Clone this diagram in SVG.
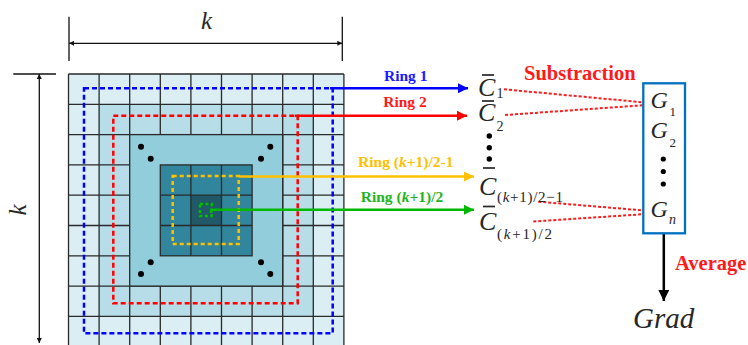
<svg xmlns="http://www.w3.org/2000/svg" width="748" height="345" viewBox="0 0 748 345">
<defs>
<style>
.grid{stroke:#2a2a2a;stroke-width:1.3;fill:none}
.lbl{font-family:"Liberation Serif",serif;font-weight:bold;font-size:15.5px;text-anchor:middle}
.op{font-family:"Liberation Serif",serif;font-weight:bold;font-size:20.5px;fill:#ff1a1a}
.math{font-family:"Liberation Serif",serif;font-style:italic;fill:#262626}
.sub{font-family:"Liberation Serif",serif;fill:#262626}
.dim{stroke:#111;stroke-width:1.3;fill:none}
.ring{fill:none;stroke-width:2.5}
.conn{fill:none;stroke-width:2.5}
.sdot{stroke:#ff1a1a;stroke-width:2;stroke-dasharray:3 2;fill:none}
.bar{stroke:#262626;stroke-width:1.7}
.dot{fill:#000}
</style>
<marker id="ab" viewBox="0 0 10 10" refX="10" refY="5" markerWidth="11" markerHeight="10" markerUnits="userSpaceOnUse" orient="auto"><path d="M0,0L10,5L0,10z" fill="#0000ff"/></marker>
<marker id="ar" viewBox="0 0 10 10" refX="10" refY="5" markerWidth="11" markerHeight="10" markerUnits="userSpaceOnUse" orient="auto"><path d="M0,0L10,5L0,10z" fill="#ff0000"/></marker>
<marker id="ay" viewBox="0 0 10 10" refX="10" refY="5" markerWidth="11" markerHeight="10" markerUnits="userSpaceOnUse" orient="auto"><path d="M0,0L10,5L0,10z" fill="#ffc000"/></marker>
<marker id="ag" viewBox="0 0 10 10" refX="10" refY="5" markerWidth="11" markerHeight="10" markerUnits="userSpaceOnUse" orient="auto"><path d="M0,0L10,5L0,10z" fill="#00b800"/></marker>
<marker id="ak" viewBox="0 0 10 10" refX="10" refY="5" markerWidth="14" markerHeight="11" markerUnits="userSpaceOnUse" orient="auto"><path d="M0,0L10,5L0,10z" fill="#000"/></marker>
<marker id="dm" viewBox="0 0 10 10" refX="10" refY="5" markerWidth="7" markerHeight="5" markerUnits="userSpaceOnUse" orient="auto-start-reverse"><path d="M0,0L10,5L0,10z" fill="#111"/></marker>
</defs>

<g id="dimensions">
<path class="dim" d="M69,16.7V61 M342.3,16.7V61"/>
<path class="dim" d="M69,43.3H342.3" marker-start="url(#dm)" marker-end="url(#dm)"/>
<text class="math" x="206.5" y="29" font-size="25" text-anchor="middle" fill="#222">k</text>
<path class="dim" d="M13.3,74H56"/>
<path class="dim" d="M39.3,74V343" marker-start="url(#dm)" marker-end="url(#dm)"/>
<text class="math" transform="translate(26,210) rotate(-90)" font-size="25" text-anchor="middle" fill="#222">k</text>
</g>

<g id="grid">
<rect x="68.5" y="74" width="275.4" height="273" fill="#daeef3"/>
<rect x="99.1" y="104.3" width="214.2" height="212.1" fill="#b7dee8"/>
<path class="grid" d="M68.5,74V347 M99.1,74V347 M129.7,74V347 M160.3,74V347 M190.9,74V347 M221.5,74V347 M252.1,74V347 M282.7,74V347 M313.3,74V347 M343.9,74V347 M68.5,74H343.9 M68.5,104.3H343.9 M68.5,134.6H343.9 M68.5,164.9H343.9 M68.5,195.2H343.9 M68.5,225.5H343.9 M68.5,255.8H343.9 M68.5,286.1H343.9 M68.5,316.4H343.9"/>
<rect x="129.7" y="134.6" width="153" height="151.5" fill="#92cddc" stroke="#2a2a2a" stroke-width="1.3"/>
<rect x="160.3" y="164.9" width="91.8" height="90.9" fill="#31859c"/>
<rect x="190.9" y="195.2" width="30.6" height="30.3" fill="#215968"/>
<path class="grid" d="M190.9,164.9V255.8 M221.5,164.9V255.8 M160.3,195.2H252.1 M160.3,225.5H252.1"/>
<rect x="160.3" y="164.9" width="91.8" height="90.9" class="grid"/>
<circle class="dot" cx="141" cy="146.7" r="3"/>
<circle class="dot" cx="150.7" cy="158.7" r="3"/>
<circle class="dot" cx="270.3" cy="146.7" r="3"/>
<circle class="dot" cx="261" cy="158.7" r="3"/>
<circle class="dot" cx="150.7" cy="262.3" r="3"/>
<circle class="dot" cx="141" cy="274" r="3"/>
<circle class="dot" cx="261" cy="262.3" r="3"/>
<circle class="dot" cx="270.3" cy="274" r="3"/>
<rect class="ring" x="84" y="88.3" width="248.7" height="245" stroke="#0000ff" stroke-dasharray="5 3"/>
<rect class="ring" x="113.3" y="115.7" width="184.4" height="187.6" stroke="#ff0000" stroke-dasharray="5 3"/>
<rect class="ring" x="172.7" y="176" width="66" height="68" stroke="#ffc000" stroke-width="2.2" stroke-dasharray="4 3"/>
<rect class="ring" x="200" y="204" width="11.7" height="12" stroke="#00c000" stroke-width="1.8" stroke-dasharray="3 2.5"/>
</g>

<g id="connectors">
<path class="conn" d="M330,88.3H468" stroke="#0000ff" marker-end="url(#ab)"/>
<path class="conn" d="M295,115.7H467" stroke="#ff0000" marker-end="url(#ar)"/>
<path class="conn" d="M238.7,176.5H474" stroke="#ffc000" marker-end="url(#ay)"/>
<path class="conn" d="M211,213V209.7H474" stroke="#00b800" marker-end="url(#ag)"/>
<path class="sdot" d="M504,89.3L646.7,102.7"/>
<path class="sdot" d="M505,115L646.7,105"/>
<path class="sdot" d="M538.3,201.7L646.7,210.7"/>
<path class="sdot" d="M533.3,221.5L646.7,214"/>
<path class="conn" d="M663.8,233.3V301" stroke="#000" marker-end="url(#ak)"/>
<text class="lbl" x="405.7" y="81" fill="#1a1aff">Ring 1</text>
<text class="lbl" x="405" y="107.3" fill="#ff1a1a">Ring 2</text>
<text class="lbl" x="405.8" y="167.3" fill="#ffc000">Ring (<tspan font-style="italic">k</tspan>+1)/2-1</text>
<text class="lbl" x="402" y="202.3" fill="#1fb51f">Ring (<tspan font-style="italic">k</tspan>+1)/2</text>
<text class="op" x="524" y="80">Substraction</text>
<text class="op" x="675" y="270">Average</text>
</g>

<g id="c1">
<text class="math" x="478" y="96" font-size="26">C</text>
<path class="bar" d="M482,75H494"/>
<text class="sub" x="496.5" y="98" font-size="14">1</text>
</g>
<g id="c2">
<text class="math" x="478" y="121" font-size="26">C</text>
<path class="bar" d="M482,101H494"/>
<text class="sub" x="496.5" y="130.5" font-size="14">2</text>
</g>
<g id="c-dots">
<circle class="dot" cx="489.3" cy="136" r="2.7"/>
<circle class="dot" cx="489.3" cy="147.7" r="2.7"/>
<circle class="dot" cx="489.3" cy="159" r="2.7"/>
</g>
<g id="c3">
<text class="math" x="479" y="195" font-size="26">C</text>
<path class="bar" d="M483,168H495"/>
<text class="sub" x="497" y="201.5" font-size="15" textLength="66" lengthAdjust="spacing">(<tspan font-style="italic">k</tspan>+1)/2−1</text>
</g>
<g id="c4">
<text class="math" x="479" y="230" font-size="26">C</text>
<path class="bar" d="M483,206.5H495"/>
<text class="sub" x="497" y="238.5" font-size="15" textLength="55" lengthAdjust="spacing">(<tspan font-style="italic">k</tspan>+1)/2</text>
</g>

<g id="g-box">
<rect x="643.3" y="83.3" width="41.7" height="150" fill="#fff" stroke="#0070c0" stroke-width="2.3"/>
<text class="math" x="650.5" y="108.3" font-size="24">G</text>
<text class="sub" x="669.5" y="116" font-size="13">1</text>
<text class="math" x="650.5" y="138.3" font-size="24">G</text>
<text class="sub" x="669.5" y="146.5" font-size="13">2</text>
<circle class="dot" cx="663.3" cy="159" r="2.6"/>
<circle class="dot" cx="663.3" cy="171.5" r="2.6"/>
<circle class="dot" cx="663.3" cy="184" r="2.6"/>
<text class="math" x="650.5" y="216.7" font-size="24">G</text>
<text class="math" x="669" y="224" font-size="14">n</text>
</g>

<g id="grad">
<text class="math" x="633" y="328.3" font-size="29">Grad</text>
</g>
</svg>
